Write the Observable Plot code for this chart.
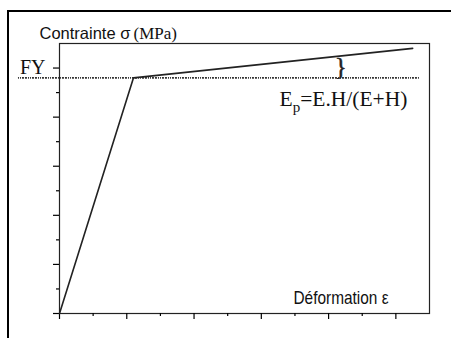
<!DOCTYPE html>
<html>
<head>
<meta charset="utf-8">
<script src="https://cdn.jsdelivr.net/npm/d3@7"></script>
<script src="https://cdn.jsdelivr.net/npm/@observablehq/plot@0.6"></script>
<style>
  html, body { margin: 0; padding: 0; background: #fff; }
  #wrap { position: relative; width: 451px; height: 338px; overflow: hidden; }
  #wrap svg { position: absolute; left: 0; top: 0; }
  #border { position: absolute; left: 7px; top: 10px; width: 600px; height: 600px;
            border-left: 2px solid #000; border-top: 2px solid #000; pointer-events: none; }
</style>
</head>
<body>
<div id="wrap"><div id="border"></div></div>
<script>
// ---- data ----
const strain = [0, 1.1, 5.25];          // déformation ε (arbitrary units)
const stress = [0, 4.8, 5.4];           // contrainte σ (arbitrary units)
const yieldStress = 4.8;                // FY level (dotted line)
const fyTick = 5;                       // tick labelled FY
const xMajorTicks = [0, 1, 2, 3, 4, 5];
const xMinorTicks = [0.5, 1.5, 2.5, 3.5, 4.5];
const yMajorTicks = [0, 1, 2, 3, 4, 5];
const yMinorTicks = [0.5, 1.5, 2.5, 3.5, 4.5];
const yLabelMain = "Contrainte σ";
const yLabelUnit = "(MPa)";
const xLabel = "Déformation ε";
const fyLabel = "FY";
const formulaParts = ["E", "p", "=E.H/(E+H)"];
const braceStrain = 4.18;

const points = strain.map((e, i) => ({e, s: stress[i]}));
// stress on the hardening branch at the brace position
const braceTop = stress[1] + (braceStrain - strain[1]) / (strain[2] - strain[1]) * (stress[2] - stress[1]);
const braceMid = (braceTop + yieldStress) / 2;

const serif = "'Liberation Serif', 'Times New Roman', serif";
const narrow = "'Liberation Sans Narrow', 'Arial Narrow', 'Liberation Sans', Arial, sans-serif";

const chart = Plot.plot({
  width: 451,
  height: 338,
  marginLeft: 59,
  marginRight: 22,
  marginTop: 43,
  marginBottom: 25,
  x: {domain: [0, 5.5]},
  y: {domain: [0, 5.5]},
  style: {background: "transparent", overflow: "visible"},
  marks: [
    Plot.ruleY([yieldStress], {x1: -0.61, x2: 5.35, stroke: "#333", strokeWidth: 1.6, strokeDasharray: "1,1,1,1,2,1,2,1"}),
    Plot.frame({stroke: "#222", strokeWidth: 1.2}),
    Plot.axisX(xMajorTicks, {tickSize: 6, tickFormat: () => "", label: null, strokeWidth: 1.2}),
    Plot.axisX(xMinorTicks, {tickSize: 3, tickFormat: () => "", label: null, strokeWidth: 1.2}),
    Plot.axisY(yMajorTicks, {tickSize: 6, tickFormat: () => "", label: null, strokeWidth: 1.2}),
    Plot.axisY(yMinorTicks, {tickSize: 3, tickFormat: () => "", label: null, strokeWidth: 1.2}),
    Plot.line(points, {x: "e", y: "s", stroke: "#222", strokeWidth: 1.6}),
    Plot.text([fyLabel], {x: 0, y: fyTick, dx: -14, textAnchor: "end", lineAnchor: "middle",
      fontFamily: serif, fontSize: 20, fill: "#111"}),
    Plot.text(["}"], {x: braceStrain, y: braceMid, lineAnchor: "middle", fontFamily: serif, fontSize: 25,
      fill: "#222", stroke: "#222", strokeWidth: 0.5}),
    Plot.text([yLabelMain], {frameAnchor: "top-left", dx: -20, dy: -5, textAnchor: "start", lineAnchor: "bottom",
      fontFamily: narrow, fontSize: 16.5, fill: "#111"}),
    Plot.text([yLabelUnit], {frameAnchor: "top-left", dx: 74, dy: -5, textAnchor: "start", lineAnchor: "bottom",
      fontFamily: serif, fontSize: 17, fill: "#111"}),
    Plot.text([formulaParts.join("")], {frameAnchor: "top-left", dx: 220, dy: 62, textAnchor: "start", lineAnchor: "bottom",
      fontFamily: serif, fontSize: 21.5, fill: "#111", className: "formula"}),
    Plot.text([xLabel], {frameAnchor: "bottom-left", dx: 234, dy: -10, textAnchor: "start", lineAnchor: "bottom",
      fontFamily: narrow, fontSize: 19, fill: "#111", className: "xlab"})
  ]
});

// subscript in the formula
const ft = d3.select(chart).select(".formula text");
ft.text(null);
ft.append("tspan").text(formulaParts[0]);
ft.append("tspan").attr("font-size", "70%").attr("dy", 6).text(formulaParts[1]);
ft.append("tspan").attr("dy", -6).text(formulaParts[2]);

// condensed (Arial Narrow-like) x label
d3.select(chart).select(".xlab text").attr("textLength", 95).attr("lengthAdjust", "spacingAndGlyphs");

document.getElementById("wrap").appendChild(chart);
</script>
</body>
</html>
